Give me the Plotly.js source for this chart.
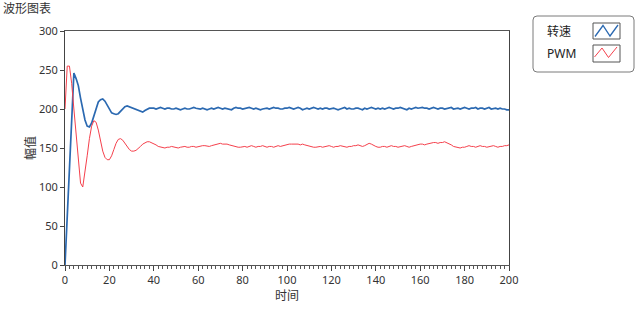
<!DOCTYPE html>
<html><head><meta charset="utf-8">
<script src="https://cdn.plot.ly/plotly-3.0.1.min.js"></script>
<style>html,body{margin:0;padding:0;background:#fff}#c{width:636px;height:312px}</style>
</head><body><div id="c"></div>
<script>
const seriesNames = ["转速", "PWM"];
const speed = [
0, 58, 120, 185, 246, 239, 230, 214, 198, 186,
178, 177, 182, 192, 202, 209, 212, 213, 210, 205,
199, 195, 194, 193, 194, 197, 201, 203, 204, 203,
202, 201, 199, 198, 197, 196, 198, 200, 201, 201,
201, 200, 201, 202, 201, 200, 201, 201, 200, 200,
201, 200, 199, 200, 201, 200, 200, 201, 202, 201,
200, 200, 201, 200, 199, 200, 201, 200, 201, 202,
201, 200, 201, 200, 199, 199, 201, 202, 201, 201,
200, 201, 201, 202, 201, 200, 201, 200, 199, 200,
201, 201, 200, 201, 202, 201, 201, 200, 200, 201,
201, 202, 201, 200, 201, 202, 201, 199, 200, 201,
200, 201, 202, 201, 200, 201, 200, 201, 201, 200,
201, 201, 200, 199, 200, 201, 202, 200, 201, 200,
200, 201, 201, 200, 199, 201, 200, 201, 202, 201,
200, 201, 200, 201, 200, 201, 202, 201, 200, 201,
201, 202, 201, 200, 199, 201, 200, 201, 202, 201,
202, 202, 201, 201, 200, 201, 202, 201, 200, 201,
201, 200, 201, 201, 202, 200, 201, 201, 200, 201,
202, 201, 200, 201, 201, 202, 200, 201, 201, 200,
201, 202, 200, 201, 201, 200, 201, 200, 200, 199, 199
];
const pwm = [
200, 255, 255, 233, 200, 165, 132, 105, 100, 118,
140, 162, 178, 185, 183, 173, 159, 146, 138, 135,
135, 140, 148, 156, 161, 162, 160, 156, 151, 148,
146, 146, 147, 149, 152, 155, 157, 158, 158, 157,
156, 154, 152, 151, 151, 150, 151, 151, 152, 151,
151, 150, 151, 152, 152, 151, 151, 152, 152, 151,
152, 152, 153, 153, 152, 152, 153, 154, 155, 156,
156, 155, 155, 155, 154, 153, 152, 151, 151, 151,
152, 152, 151, 152, 153, 152, 151, 152, 152, 153,
152, 151, 152, 152, 151, 152, 153, 152, 153, 154,
155, 155, 155, 155, 155, 155, 154, 155, 154, 153,
152, 152, 151, 151, 152, 152, 151, 152, 152, 153,
152, 151, 152, 152, 153, 152, 152, 151, 152, 152,
153, 153, 154, 153, 152, 153, 154, 156, 155, 153,
152, 151, 151, 152, 152, 151, 152, 153, 152, 152,
151, 152, 152, 153, 152, 151, 152, 153, 154, 154,
155, 155, 154, 155, 156, 156, 157, 157, 156, 157,
157, 158, 157, 156, 154, 152, 151, 150, 150, 151,
151, 152, 153, 152, 152, 151, 152, 153, 152, 152,
151, 152, 152, 153, 152, 151, 152, 152, 153, 153, 154
];
const time = speed.map((_, i) => i);
const xTicks = [0, 20, 40, 60, 80, 100, 120, 140, 160, 180, 200];
const yTicks = [0, 50, 100, 150, 200, 250, 300];

const W = 636, H = 312, L = 65, R = 127, T = 31, B = 47;
const pw = W - L - R, ph = H - T - B;
const px = x => (x - L) / pw;
const py = y => (H - B - y) / ph;
const blue = "#2b69b1", red = "#f5404c";
const FONT = "Noto Sans, Noto Sans CJK SC, sans-serif";

function zig(pts) { return "M" + pts.map(p => px(p[0]) + "," + py(p[1])).join(" L"); }

const shapes = [
  {type: "path", xref: "paper", yref: "paper",
   path: (() => { const x0=533,x1=634,y0=16,y1=72,r=4;
     const P=(x,y)=>px(x)+","+py(y);
     return "M"+P(x0+r,y0)+" L"+P(x1-r,y0)+" Q"+P(x1,y0)+" "+P(x1,y0+r)+" L"+P(x1,y1-r)+" Q"+P(x1,y1)+" "+P(x1-r,y1)+" L"+P(x0+r,y1)+" Q"+P(x0,y1)+" "+P(x0,y1-r)+" L"+P(x0,y0+r)+" Q"+P(x0,y0)+" "+P(x0+r,y0)+" Z"; })(),
   line: {color: "#7a7a7a", width: 1}, fillcolor: "rgba(0,0,0,0)"},
  {type: "rect", xref: "paper", yref: "paper", x0: px(593), x1: px(620), y0: py(23), y1: py(39),
   line: {color: "#555", width: 1}},
  {type: "rect", xref: "paper", yref: "paper", x0: px(593), x1: px(620), y0: py(45), y1: py(62),
   line: {color: "#555", width: 1}},
  {type: "path", xref: "paper", yref: "paper",
   path: zig([[595,36.5],[603,25.5],[610,36],[618,25]]), line: {color: blue, width: 1.3}},
  {type: "path", xref: "paper", yref: "paper",
   path: zig([[594.5,57],[602,48],[608.5,57.5],[617,47]]), line: {color: red, width: 1}}
];

const annotations = [
  {text: "波形图表", xref: "paper", yref: "paper", x: px(1), y: py(9), xanchor: "left", yanchor: "middle",
   showarrow: false, font: {family: FONT, size: 12, color: "#333"}},
  {text: seriesNames[0], xref: "paper", yref: "paper", x: px(545), y: py(31), xanchor: "left", yanchor: "middle",
   showarrow: false, font: {family: FONT, size: 12, color: "#222"}},
  {text: seriesNames[1], xref: "paper", yref: "paper", x: px(545), y: py(53), xanchor: "left", yanchor: "middle",
   showarrow: false, font: {family: FONT, size: 12, color: "#222"}}
];

const traces = [
  {x: time, y: speed, type: "scatter", mode: "lines", name: seriesNames[0], line: {color: blue, width: 1.7}},
  {x: time, y: pwm, type: "scatter", mode: "lines", name: seriesNames[1], line: {color: red, width: 1}}
];

const layout = {
  width: W, height: H,
  margin: {l: L, r: R, t: T, b: B, pad: 0},
  paper_bgcolor: "#fff", plot_bgcolor: "#fff",
  showlegend: false,
  font: {family: FONT, size: 11, color: "#333"},
  xaxis: {range: [0, 200], tickvals: xTicks, ticktext: xTicks.map(String), ticks: "outside", ticklen: 5,
          tickcolor: "#444", showgrid: false, zeroline: false, showline: true, linecolor: "#555", linewidth: 1,
          mirror: true, minor: {dtick: 2, ticks: "outside", ticklen: 3, tickcolor: "#555", showgrid: false},
          title: {text: "时间", font: {family: FONT, size: 12, color: "#333"}, standoff: 4},
          tickfont: {family: FONT, size: 11, color: "#333"}},
  yaxis: {range: [0, 300], tickvals: yTicks, ticktext: yTicks.map(String), ticks: "outside", ticklen: 4,
          tickcolor: "#444", showgrid: false, zeroline: false, showline: true, linecolor: "#444", linewidth: 1,
          mirror: true, title: {text: "幅值", font: {family: FONT, size: 12, color: "#333"}, standoff: 0},
          tickfont: {family: FONT, size: 11, color: "#333"}},
  shapes: shapes,
  annotations: annotations
};

Plotly.newPlot("c", traces, layout, {staticPlot: true, displayModeBar: false});
</script></body></html>
